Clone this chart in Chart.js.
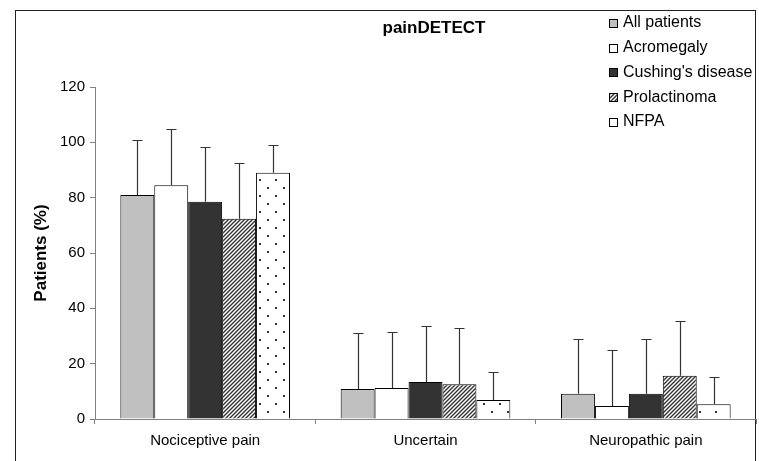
<!DOCTYPE html>
<html>
<head>
<meta charset="utf-8">
<script src="https://cdn.jsdelivr.net/npm/chart.js@4.4.1/dist/chart.umd.min.js"></script>
<style>
  html, body { margin: 0; padding: 0; background: #fff; }
  #wrap { width: 759px; height: 461px; }
</style>
</head>
<body>
<div id="wrap"><canvas id="chart" width="759" height="461"></canvas></div>
<script>
const CATEGORIES = ['Nociceptive pain', 'Uncertain', 'Neuropathic pain'];
const SERIES_NAMES = ['All patients', 'Acromegaly', "Cushing's disease", 'Prolactinoma', 'NFPA'];

const ALL_PATIENTS = [81.0, 10.8, 9.1];
const ACROMEGALY   = [84.5, 11.2, 4.7];
const CUSHING      = [78.5, 13.4, 9.1];
const PROLACTINOMA = [72.4, 12.6, 15.6];
const NFPA         = [89.0, 6.9, 5.3];

// standard deviation (upper error bar only)
const ALL_PATIENTS_SD = [19.8, 20.2, 19.8];
const ACROMEGALY_SD   = [20.3, 20.2, 20.3];
const CUSHING_SD      = [19.8, 20.3, 19.8];
const PROLACTINOMA_SD = [20.2, 20.3, 19.7];
const NFPA_SD         = [9.9, 10.0, 9.8];

const Y_TICKS = [0, 20, 40, 60, 80, 100, 120];

const FONT = '"Liberation Sans", Arial, sans-serif';
const AXIS_GRAY = '#808080';

// ─── fill patterns ───────────────────────────────
function hatchPattern() {
  const c = document.createElement('canvas');
  c.width = c.height = 4;
  const g = c.getContext('2d');
  g.fillStyle = '#fff';
  g.fillRect(0, 0, 4, 4);
  g.strokeStyle = '#333';
  g.lineWidth = 1.4;
  g.beginPath();
  g.moveTo(0, 4); g.lineTo(4, 0);
  g.moveTo(-1, 1); g.lineTo(1, -1);
  g.moveTo(3, 5); g.lineTo(5, 3);
  g.stroke();
  return g.createPattern(c, 'repeat');
}

function dotPattern() {
  const c = document.createElement('canvas');
  c.width = c.height = 16;
  const g = c.getContext('2d');
  g.fillStyle = '#fff';
  g.fillRect(0, 0, 16, 16);
  g.fillStyle = '#333';
  g.fillRect(3, 3, 2, 2);
  g.fillRect(11, 11, 2, 2);
  return g.createPattern(c, 'repeat');
}

const FILLS = ['#c0c0c0', '#ffffff', '#333333', hatchPattern(), dotPattern()];
const VALUES = [ALL_PATIENTS, ACROMEGALY, CUSHING, PROLACTINOMA, NFPA];
const ERRORS = [ALL_PATIENTS_SD, ACROMEGALY_SD, CUSHING_SD, PROLACTINOMA_SD, NFPA_SD];

// ─── frame, title, legend, error bars ───────────────
const decorPlugin = {
  id: 'decor',
  beforeDraw(chart) {
    const ctx = chart.ctx;
    ctx.save();
    ctx.fillStyle = '#fff';
    ctx.fillRect(0, 0, chart.width, chart.height);
    ctx.strokeStyle = '#222';
    ctx.lineWidth = 1;
    ctx.strokeRect(15.5, 10.5, 740, 470);
    ctx.restore();
  },
  afterDatasetsDraw(chart) {
    const ctx = chart.ctx;
    const y = chart.scales.y;
    ctx.save();
    ctx.strokeStyle = '#333';
    ctx.lineWidth = 1.2;
    chart.data.datasets.forEach((ds, i) => {
      const meta = chart.getDatasetMeta(i);
      meta.data.forEach((bar, j) => {
        const top = Math.round(y.getPixelForValue(ds.data[j] + ds.errors[j])) + 0.5;
        const x = Math.round(bar.x) + 0.5;
        ctx.beginPath();
        ctx.moveTo(x, bar.y);
        ctx.lineTo(x, top);
        ctx.moveTo(x - 5, top);
        ctx.lineTo(x + 5, top);
        ctx.stroke();
      });
    });
    ctx.restore();
  },
  afterDraw(chart) {
    const ctx = chart.ctx;
    ctx.save();
    ctx.fillStyle = '#000';
    ctx.font = 'bold 17px ' + FONT;
    ctx.textAlign = 'center';
    ctx.textBaseline = 'middle';
    ctx.fillText('painDETECT', 434, 28);

    ctx.font = '16px ' + FONT;
    ctx.textAlign = 'left';
    chart.data.datasets.forEach((ds, i) => {
      const yc = 23 + i * 24.7;
      ctx.fillStyle = ds.backgroundColor;
      ctx.fillRect(609, Math.round(yc) - 4, 8, 8);
      ctx.strokeStyle = '#000';
      ctx.lineWidth = 1;
      ctx.strokeRect(609.5, Math.round(yc) - 3.5, 8, 8);
      ctx.fillStyle = '#000';
      ctx.fillText(ds.label, 623, yc);
    });
    ctx.restore();
  }
};

new Chart(document.getElementById('chart').getContext('2d'), {
  type: 'bar',
  data: {
    labels: CATEGORIES,
    datasets: SERIES_NAMES.map((name, i) => ({
      label: name,
      data: VALUES[i],
      errors: ERRORS[i],
      backgroundColor: FILLS[i],
      borderColor: '#000',
      borderWidth: 1,
      borderSkipped: 'bottom',
      categoryPercentage: 0.77,
      barPercentage: 1
    }))
  },
  options: {
    responsive: false,
    animation: false,
    layout: { padding: { left: 16, right: 3, top: 87, bottom: 0 } },
    plugins: { legend: { display: false }, title: { display: false }, tooltip: { enabled: false } },
    scales: {
      x: {
        grid: { display: true, drawOnChartArea: false, drawTicks: true, tickLength: 5, color: AXIS_GRAY, offset: true },
        border: { display: true, color: AXIS_GRAY, width: 1 },
        ticks: { color: '#000', font: { family: FONT, size: 15 }, padding: 8, maxRotation: 0 },
        afterFit(scale) { scale.height = 42; }
      },
      y: {
        min: 0,
        max: 120,
        afterBuildTicks(scale) { scale.ticks = Y_TICKS.map(v => ({ value: v })); },
        grid: { display: true, drawOnChartArea: false, drawTicks: true, tickLength: 5, color: AXIS_GRAY },
        border: { display: true, color: AXIS_GRAY, width: 1 },
        ticks: { color: '#000', font: { family: FONT, size: 15 }, padding: 5 },
        title: {
          display: true,
          text: 'Patients (%)',
          color: '#000',
          font: { family: FONT, size: 17, weight: 'bold' },
          padding: { top: 15, bottom: 0 }
        },
        afterFit(scale) { scale.width = 79; }
      }
    }
  },
  plugins: [decorPlugin]
});
</script>
</body>
</html>
